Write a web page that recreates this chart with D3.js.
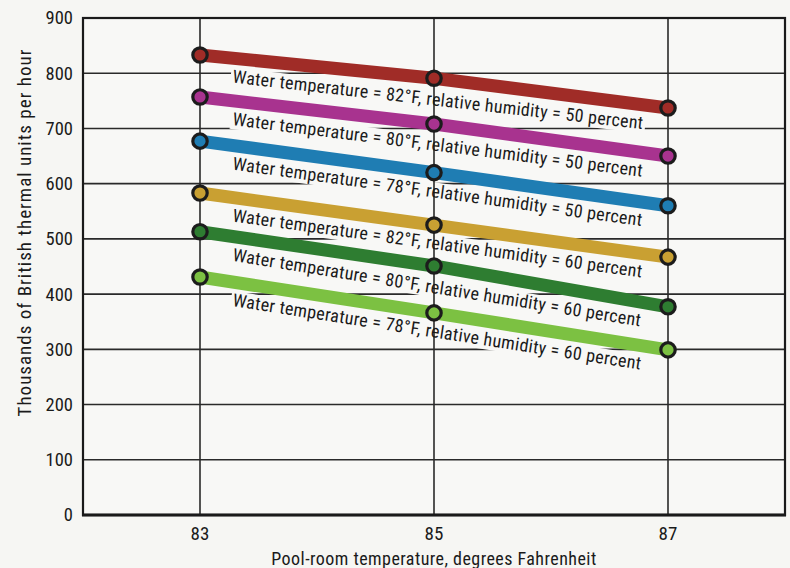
<!DOCTYPE html>
<html>
<head>
<meta charset="utf-8">
<script src="https://cdn.jsdelivr.net/npm/d3@7"></script>
<style>
  html, body { margin: 0; padding: 0; background: #f6f6f3; }
  svg { display: block; }
  text { font-family: "Liberation Sans Narrow", "Arial Narrow", "Roboto Condensed", "Liberation Sans", sans-serif; fill: #1a1a1a; }
</style>
</head>
<body>
<svg id="chart" width="790" height="568"></svg>
<script>
// ---- data ----
const poolTemps = [83, 85, 87];
const yTicks = [0, 100, 200, 300, 400, 500, 600, 700, 800, 900];
const seriesLabels = [
  "Water temperature = 82°F, relative humidity = 50 percent",
  "Water temperature = 80°F, relative humidity = 50 percent",
  "Water temperature = 78°F, relative humidity = 50 percent",
  "Water temperature = 82°F, relative humidity = 60 percent",
  "Water temperature = 80°F, relative humidity = 60 percent",
  "Water temperature = 78°F, relative humidity = 60 percent"
];
const w82h50 = [833, 791, 737];
const w80h50 = [757, 708, 650];
const w78h50 = [677, 620, 560];
const w82h60 = [583, 525, 467];
const w80h60 = [513, 451, 377];
const w78h60 = [431, 366, 299];
const seriesValues = [w82h50, w80h50, w78h50, w82h60, w80h60, w78h60];
const seriesColors = ["#a02c27", "#a8338f", "#1f7db3", "#c9a032", "#2e7d31", "#7cc142"];

// ---- layout ----
const svg = d3.select("#chart");
const margin = { left: 83, right: 5, top: 18, bottom: 53 };
const W = 790, H = 568;
const x = d3.scaleLinear().domain([82, 88]).range([margin.left, W - margin.right]);
const y = d3.scaleLinear().domain([0, 900]).range([H - margin.bottom, margin.top]);
const bg = "#f8f8f6";

const series = seriesValues.map((vals, i) => ({ vals, color: seriesColors[i], label: seriesLabels[i] }));

// layers
const gBg = svg.append("g");
const gH = svg.append("g");
const gMask = svg.append("g");
const gV = svg.append("g");
const gFrame = svg.append("g");
const gLines = svg.append("g");
const gMarkers = svg.append("g");
const gLabels = svg.append("g");
const gAxes = svg.append("g");

// plot background
gBg.append("rect").attr("x", x(82)).attr("y", y(900))
  .attr("width", x(88) - x(82)).attr("height", y(0) - y(900)).attr("fill", bg);

// horizontal gridlines
gH.selectAll("line").data(yTicks.filter(d => d > 0 && d < 900)).join("line")
  .attr("x1", x(82)).attr("x2", x(88))
  .attr("y1", d => y(d)).attr("y2", d => y(d))
  .attr("stroke", "#2a2a2a").attr("stroke-width", 1.6);

// vertical gridlines
gV.selectAll("line").data(poolTemps).join("line")
  .attr("x1", d => x(d)).attr("x2", d => x(d))
  .attr("y1", y(900)).attr("y2", y(0))
  .attr("stroke", "#2a2a2a").attr("stroke-width", 1.6);

// frame
gFrame.append("rect").attr("x", x(82)).attr("y", y(900))
  .attr("width", x(88) - x(82)).attr("height", y(0) - y(900))
  .attr("fill", "none").attr("stroke", "#1a1a1a").attr("stroke-width", 2.2);
gFrame.append("line").attr("x1", x(82) - 1).attr("x2", x(88) + 1)
  .attr("y1", y(0)).attr("y2", y(0)).attr("stroke", "#1a1a1a").attr("stroke-width", 3);

// series lines
const line = d3.line().x((d, i) => x(poolTemps[i])).y(d => y(d));
gLines.selectAll("path").data(series).join("path")
  .attr("d", d => line(d.vals))
  .attr("fill", "none").attr("stroke", d => d.color)
  .attr("stroke-width", 13).attr("stroke-linecap", "butt");

// markers
gMarkers.selectAll("g").data(series).join("g")
  .each(function (d) {
    d3.select(this).selectAll("circle").data(d.vals).join("circle")
      .attr("cx", (v, i) => x(poolTemps[i])).attr("cy", v => y(v))
      .attr("r", 7.2).attr("fill", d.color)
      .attr("stroke", "#1c1c1c").attr("stroke-width", 3.2);
  });

// labels
function labelTransform(d) {
  const x0 = x(poolTemps[0]), y0 = y(d.vals[0]);
  const x1 = x(poolTemps[2]), y1 = y(d.vals[2]);
  const ang = Math.atan2(y1 - y0, x1 - x0) * 180 / Math.PI;
  const sx = x0 + 32;
  const sy = y0 + (y1 - y0) * (32 / (x1 - x0)) + 24;
  return `translate(${sx},${sy}) rotate(${ang})`;
}
const labelTexts = gLabels.selectAll("text").data(series).join("text")
  .attr("transform", labelTransform)
  .attr("font-size", 18).attr("letter-spacing", 0.3)
  .text(d => d.label);
labelTexts.each(function (d) {
  const b = this.getBBox();
  gMask.append("rect")
    .attr("transform", labelTransform(d))
    .attr("x", b.x - 2).attr("y", b.y + 2).attr("width", b.width + 4).attr("height", b.height - 2)
    .attr("fill", bg);
});

// y tick labels
gAxes.append("g").selectAll("text").data(yTicks).join("text")
  .attr("x", x(82) - 10).attr("y", d => y(d)).attr("dy", "0.35em")
  .attr("text-anchor", "end").attr("font-size", 18.5)
  .text(d => d);

// x tick labels
gAxes.append("g").selectAll("text").data(poolTemps).join("text")
  .attr("x", d => x(d)).attr("y", y(0) + 25)
  .attr("text-anchor", "middle").attr("font-size", 19)
  .text(d => d);

// axis titles
gAxes.append("text").attr("x", x(85)).attr("y", H - 3)
  .attr("text-anchor", "middle").attr("font-size", 18).attr("letter-spacing", 0.45)
  .text("Pool-room temperature, degrees Fahrenheit");
gAxes.append("text")
  .attr("transform", `translate(31,${(40 + 425) / 2}) rotate(-90)`)
  .attr("text-anchor", "middle").attr("font-size", 19).attr("letter-spacing", 1)
  .text("Thousands of British thermal units per hour");
</script>
</body>
</html>
